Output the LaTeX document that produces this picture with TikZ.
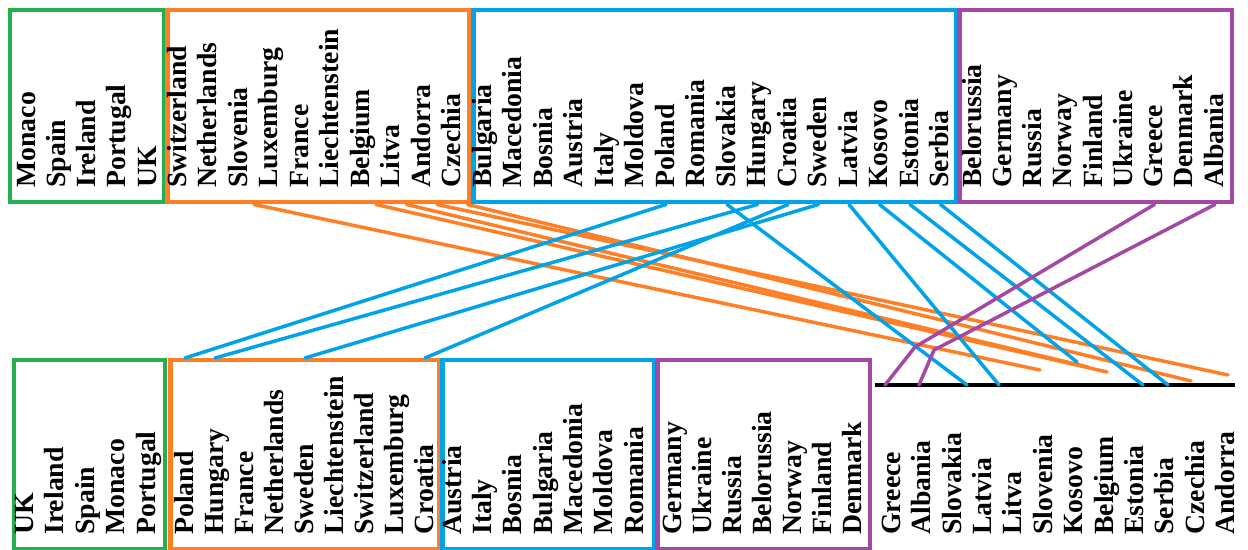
\documentclass[tikz,border=0pt]{standalone}
\usepackage{fontspec}
\setmainfont{Liberation Serif}
\usetikzlibrary{calc}
\definecolor{grpgreen}{RGB}{34,177,76}
\definecolor{grporange}{RGB}{255,127,39}
\definecolor{grpblue}{RGB}{0,162,232}
\definecolor{grppurple}{RGB}{163,73,164}
\tikzset{
	groupbox/.style={draw=#1, line width=0.09cm, rectangle, anchor=north west, inner sep=0pt},
	country/.style={rotate=90, anchor=west, inner sep=0pt, text height=0.7em, text depth=0.22em,
		font=\bfseries\fontsize{15.8}{18}\selectfont},
	link/.style={draw=#1, line width=0.07cm, line cap=round},
	groundline/.style={draw=black, line width=0.09cm}
}
\begin{document}
\begin{tikzpicture}[x=0.02cm, y=-0.02cm]
	\useasboundingbox (0,0) rectangle (1248,550);

	% top row of groups
	\node[groupbox=grpgreen, minimum width=3.08cm, minimum height=3.84cm] (tgreen) at (8,8) {};
	\node[groupbox=grporange, minimum width=6.04cm, minimum height=3.84cm] (torange) at (165,8) {};
	\node[groupbox=grpblue, minimum width=9.66cm, minimum height=3.84cm] (tblue) at (471,8) {};
	\node[groupbox=grppurple, minimum width=5.46cm, minimum height=3.84cm] (tpurple) at (957,8) {};

	\foreach \c [count=\i from 0] in {Monaco,Spain,Ireland,Portugal,UK}
		\node[country] (t\c) at (31+30.25*\i,188) {\c};
	\foreach \c [count=\i from 0] in {Switzerland,Netherlands,Slovenia,Luxemburg,France,Liechtenstein,Belgium,Litva,Andorra,Czechia}
		\node[country] (t\c) at (182+30.5*\i,188) {\c};
	\foreach \c [count=\i from 0] in {Bulgaria,Macedonia,Bosnia,Austria,Italy,Moldova,Poland,Romania,Slovakia,Hungary,Croatia,Sweden,Latvia,Kosovo,Estonia,Serbia}
		\node[country] (t\c) at (487+30.5*\i,188) {\c};
	\foreach \c [count=\i from 0] in {Belorussia,Germany,Russia,Norway,Finland,Ukraine,Greece,Denmark,Albania}
		\node[country] (t\c) at (977+30.25*\i,188) {\c};

	% bottom row of groups
	\node[groupbox=grpgreen, minimum width=3.02cm, minimum height=3.78cm] (bgreen) at (12,358) {};
	\node[groupbox=grporange, minimum width=5.38cm, minimum height=3.78cm] (borange) at (168,358) {};
	\node[groupbox=grpblue, minimum width=4.24cm, minimum height=3.78cm] (bblue) at (440,358) {};
	\node[groupbox=grppurple, minimum width=4.26cm, minimum height=3.78cm] (bpurple) at (655,358) {};

	\foreach \c [count=\i from 0] in {UK,Ireland,Spain,Monaco,Portugal}
		\node[country] (b\c) at (29+30.5*\i,535) {\c};
	\foreach \c [count=\i from 0] in {Poland,Hungary,France,Netherlands,Sweden,Liechtenstein,Switzerland,Luxemburg,Croatia}
		\node[country] (b\c) at (189+30*\i,535) {\c};
	\foreach \c [count=\i from 0] in {Austria,Italy,Bosnia,Bulgaria,Macedonia,Moldova,Romania}
		\node[country] (b\c) at (457+30.3*\i,535) {\c};
	\foreach \c [count=\i from 0] in {Germany,Ukraine,Russia,Belorussia,Norway,Finland,Denmark}
		\node[country] (b\c) at (677+30*\i,535) {\c};

	% ungrouped ones under the line
	\coordinate (gndL) at (875,385);
	\coordinate (gndR) at (1235,385);
	\draw[groundline] (gndL) -- (gndR);
	\foreach \c [count=\i from 0] in {Greece,Albania,Slovakia,Latvia,Litva,Slovenia,Kosovo,Belgium,Estonia,Serbia,Czechia,Andorra}
		\node[country] (l\c) at (896+30.4*\i,535) {\c};

	% free ends near the line
	\coordinate (eSlovenia) at (1040,370);
	\coordinate (eBelgium) at (1107,372);
	\coordinate (eLitva) at (1088,367);
	\coordinate (eAndorra) at (1228,375);
	\coordinate (eCzechia) at (1191,381);
	\coordinate (eSlovakia) at (967,385);
	\coordinate (eLatvia) at (999,385);
	\coordinate (eKosovo) at (1077,362);
	\coordinate (eEstonia) at (1143,385);
	\coordinate (eSerbia) at (1168,385);
	\coordinate (eGreece) at (885,385);
	\coordinate (eAlbania) at (919,385);

	% moves
	\draw[link=grporange] ($(tSlovenia |- torange.south)+(11,0)$) -- (eSlovenia);
	\draw[link=grporange] ($(tBelgium |- torange.south)+(11,0)$) -- (eBelgium);
	\draw[link=grporange] ($(tLitva |- torange.south)+(11,0)$) -- (eLitva);
	\draw[link=grporange] ($(tAndorra |- torange.south)+(11,0)$) -- (eAndorra);
	\draw[link=grporange] ($(tCzechia |- torange.south)+(11,0)$) -- (eCzechia);

	\draw[link=grpblue] ($(tPoland |- tblue.south)+(-4,0)$) -- ($(bPoland |- borange.north)+(-4,0)$);
	\draw[link=grpblue] ($(tHungary |- tblue.south)+(-4,0)$) -- ($(bHungary |- borange.north)+(-4,0)$);
	\draw[link=grpblue] ($(tSweden |- tblue.south)+(-4,0)$) -- ($(bSweden |- borange.north)+(-4,0)$);
	\draw[link=grpblue] ($(tCroatia |- tblue.south)+(-4,0)$) -- ($(bCroatia |- borange.north)+(-4,0)$);
	\draw[link=grpblue] ($(tSlovakia |- tblue.south)+(-4,0)$) -- (eSlovakia);
	\draw[link=grpblue] ($(tLatvia |- tblue.south)+(-4,0)$) -- (eLatvia);
	\draw[link=grpblue] ($(tKosovo |- tblue.south)+(-4,0)$) -- (eKosovo);
	\draw[link=grpblue] ($(tEstonia |- tblue.south)+(-4,0)$) -- (eEstonia);
	\draw[link=grpblue] ($(tSerbia |- tblue.south)+(-4,0)$) -- (eSerbia);

	\draw[link=grppurple] ($(tGreece |- tpurple.south)+(-4,0)$) -- (915,347) -- (eGreece);
	\draw[link=grppurple] ($(tAlbania |- tpurple.south)+(-4,0)$) -- (934,350) -- (eAlbania);
\end{tikzpicture}
\end{document}
